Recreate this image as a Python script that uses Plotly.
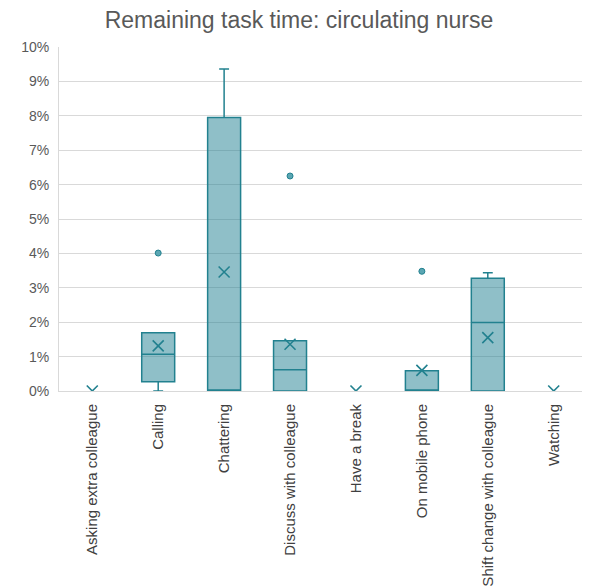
"""
Remaining task time: circulating nurse
Box plot with precomputed statistics (Excel-style)
"""

import plotly.graph_objects as go

# Kategoriler
categories = [
    "Asking extra colleague", "Calling", "Chattering", "Discuss with colleague",
    "Have a break", "On mobile phone", "Shift change with colleague", "Watching",
]

# Kutu istatistikleri (oran olarak)
q1 = [0.0, 0.0027, 0.0, 0.0, 0.0, 0.0, 0.0, 0.0]
median = [0.0, 0.0107, 0.0, 0.0062, 0.0, 0.0, 0.0199, 0.0]
q3 = [0.0, 0.0169, 0.0795, 0.0146, 0.0, 0.0059, 0.0328, 0.0]
lower = [0.0, 0.0, 0.0, 0.0, 0.0, 0.0, 0.0, 0.0]
upper = [0.0, 0.0169, 0.0936, 0.0146, 0.0, 0.0059, 0.0344, 0.0]
means = [0.0, 0.0131, 0.0346, 0.0136, 0.0, 0.0060, 0.0155, 0.0]

# Aykırı değerler
outlier_cats = ["Calling", "Discuss with colleague", "On mobile phone"]
outlier_vals = [0.0401, 0.0625, 0.0348]

line_color = "#22818F"
fill_color = "rgba(31,128,145,0.5)"

# Tamamen sıfır olan kategoriler için kutu çizilmiyor (Excel gibi)
idx = [i for i in range(len(categories)) if upper[i] > 0]

fig = go.Figure()

fig.add_trace(go.Box(
    x=[categories[i] for i in idx],
    q1=[q1[i] for i in idx],
    median=[median[i] for i in idx],
    q3=[q3[i] for i in idx],
    lowerfence=[lower[i] for i in idx],
    upperfence=[upper[i] for i in idx],
    fillcolor=fill_color,
    line=dict(color=line_color, width=1.5),
    whiskerwidth=0.3,
    boxpoints=False,
    showlegend=False,
    hoverinfo="skip",
))

# Ortalama işaretleri
fig.add_trace(go.Scatter(
    x=categories,
    y=means,
    mode="markers",
    marker=dict(symbol="x-thin-open", size=11, color=line_color,
                line=dict(color=line_color, width=1.6)),
    showlegend=False,
))

# Aykırı noktalar
fig.add_trace(go.Scatter(
    x=outlier_cats,
    y=outlier_vals,
    mode="markers",
    marker=dict(symbol="circle", size=6, color="#5BA6B3",
                line=dict(color=line_color, width=1)),
    showlegend=False,
))

# Sayfa gövdesi 8px kenar boşluğu ekliyor, bu yüzden boyutlar 8px küçük
fig.update_layout(
    title=dict(
        text="Remaining task time: circulating nurse",
        x=0.5, xanchor="center", y=0.979, yanchor="middle",
        font=dict(family="Liberation Sans, Arial", size=23, color="#595959"),
    ),
    width=582,
    height=578,
    margin=dict(l=51, r=3, t=39, b=195),
    plot_bgcolor="white",
    paper_bgcolor="white",
    boxgap=0.5,
    boxgroupgap=0,
    font=dict(family="Liberation Sans, Arial", color="#595959"),
    xaxis=dict(
        categoryorder="array",
        categoryarray=categories,
        tickangle=-90,
        tickfont=dict(size=15, color="#404040"),
        showline=True,
        linecolor="#D9D9D9",
        linewidth=1,
        showgrid=False,
        ticks="",
        ticklabelstandoff=6,
        automargin=False,
    ),
    yaxis=dict(
        range=[0, 0.1],
        dtick=0.01,
        tickformat=".0%",
        tickfont=dict(size=14, color="#595959"),
        showgrid=True,
        gridcolor="#D9D9D9",
        gridwidth=1,
        showline=True,
        linecolor="#D9D9D9",
        zeroline=False,
        ticks="",
        ticklabelstandoff=6,
        automargin=False,
    ),
)

fig.write_html("out.html")
